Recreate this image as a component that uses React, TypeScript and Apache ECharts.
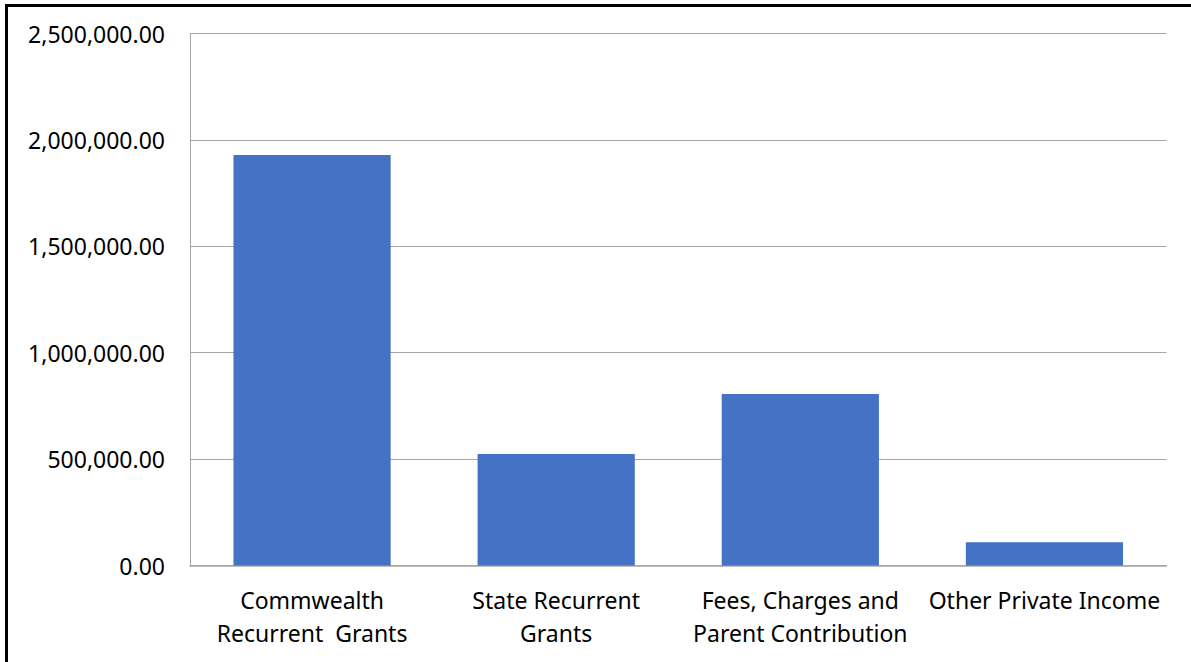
import React, { useEffect, useRef } from "react";
import * as echarts from "echarts";

// Income sources and amounts (AUD)
const categories = [
  "Commwealth\nRecurrent  Grants",
  "State Recurrent\nGrants",
  "Fees, Charges and\nParent Contribution",
  "Other Private Income",
];
const amounts = [1929000, 524000, 806000, 109000];

const yTickInterval = 500000;
const yMax = 2500000;

const fmt = (v: number) =>
  v.toLocaleString("en-US", { minimumFractionDigits: 2, maximumFractionDigits: 2 });

export default function App() {
  const ref = useRef<HTMLDivElement>(null);

  useEffect(() => {
    if (!ref.current) return;
    const chart = echarts.init(ref.current, null, { renderer: "svg" });
    chart.setOption({
      animation: false,
      backgroundColor: "#ffffff",
      textStyle: { fontFamily: "Noto Sans" },
      grid: {
        left: 190,
        right: 24.5,
        top: 33.5,
        bottom: 96.5,
        outerBoundsMode: "none",
      },
      xAxis: {
        type: "category",
        data: categories,
        axisLine: { show: true, lineStyle: { color: "#a6a6a6", width: 1.5 } },
        axisTick: { show: false },
        axisLabel: {
          color: "#000000",
          fontSize: 23,
          lineHeight: 33,
          margin: 18,
          interval: 0,
          fontFamily: "Noto Sans",
        },
      },
      yAxis: {
        type: "value",
        min: 0,
        max: yMax,
        interval: yTickInterval,
        axisLine: { show: true, lineStyle: { color: "#a6a6a6", width: 1 } },
        axisTick: { show: false },
        splitLine: { show: true, lineStyle: { color: "#a6a6a6", width: 1 } },
        axisLabel: {
          color: "#000000",
          fontSize: 23,
          margin: 25,
          fontFamily: "Noto Sans",
          formatter: (v: number) => fmt(v),
        },
      },
      series: [
        {
          type: "bar",
          data: amounts,
          barCategoryGap: "35.6%",
          itemStyle: { color: "#4472C4" },
        },
      ],
    });
    return () => chart.dispose();
  }, []);

  return (
    <div style={{ position: "fixed", left: 0, top: 0, width: 1191, height: 662, background: "#fff" }}>
      <div ref={ref} style={{ position: "absolute", left: 0, top: 0, width: 1191, height: 662 }} />
      <div
        style={{
          position: "absolute",
          left: 5,
          top: 4,
          width: 1300,
          height: 800,
          borderLeft: "3px solid #000",
          borderTop: "3px solid #000",
          pointerEvents: "none",
        }}
      />
    </div>
  );
}
